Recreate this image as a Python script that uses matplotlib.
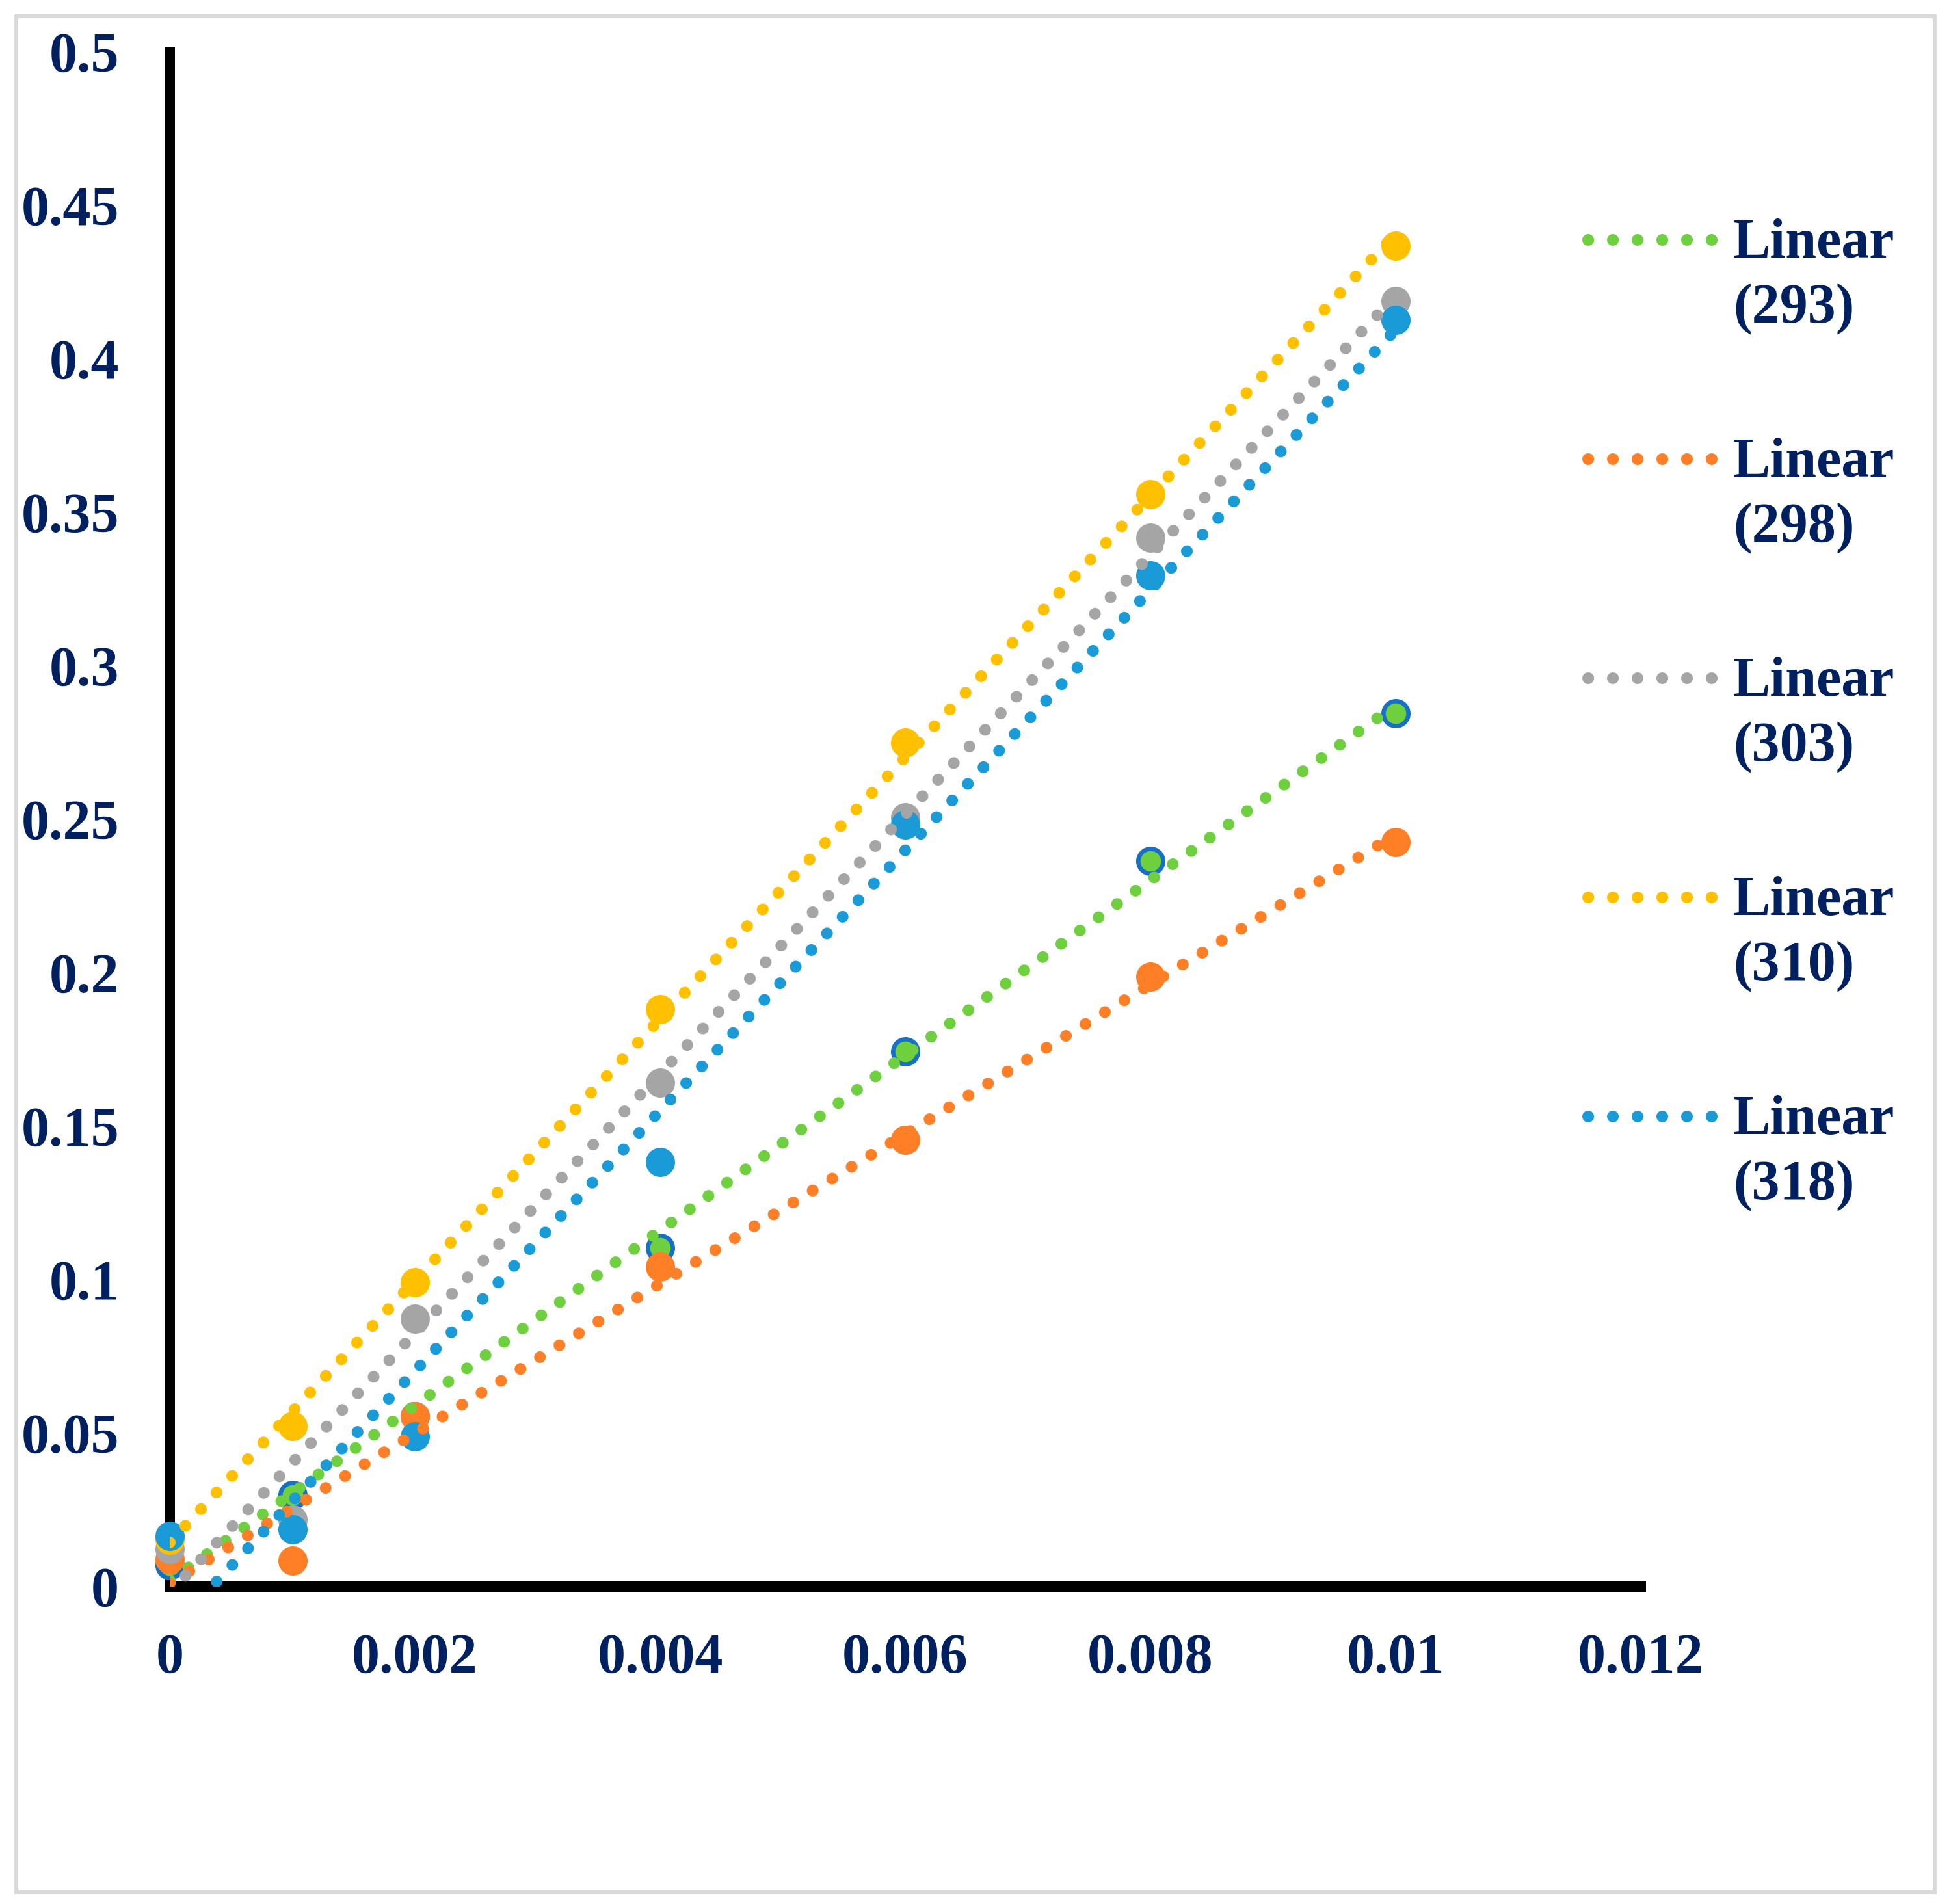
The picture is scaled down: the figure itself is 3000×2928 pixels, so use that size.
import numpy as np
import matplotlib
matplotlib.use("Agg")
from matplotlib import pyplot as plt
from matplotlib.lines import Line2D
from matplotlib.patches import Rectangle

plt.rcParams['font.family'] = ['Liberation Serif', 'DejaVu Serif']
plt.rcParams['font.weight'] = 'bold'

# concentration values (x) and readings per temperature
x_vals = [0, 0.001, 0.002, 0.004, 0.006, 0.008, 0.01]
y_293 = [0.0069, 0.0299, 0.0555, 0.1104, 0.1744, 0.2364, 0.2845]
y_298 = [0.0090, 0.0085, 0.0555, 0.1042, 0.1456, 0.1987, 0.2426]
y_303 = [0.0122, 0.0218, 0.0872, 0.1642, 0.2506, 0.3417, 0.4189]
y_310 = [0.0152, 0.0523, 0.0991, 0.1881, 0.2750, 0.3559, 0.4369]
y_318 = [0.0165, 0.0187, 0.0489, 0.1383, 0.2483, 0.3294, 0.4127]

series_names = ["293", "298", "303", "310", "318"]
series_vals = [y_293, y_298, y_303, y_310, y_318]
colors = ['#6ECF3F', '#FF7F27', '#A5A5A5', '#FFC000', '#1A9AD6']
ring_color = '#1670C6'
text_color = '#002060'

x_ticks = [0, 0.002, 0.004, 0.006, 0.008, 0.01, 0.012]
x_tick_labels = ['0', '0.002', '0.004', '0.006', '0.008', '0.01', '0.012']
y_ticks = [0, 0.05, 0.1, 0.15, 0.2, 0.25, 0.3, 0.35, 0.4, 0.45, 0.5]
y_tick_labels = ['0', '0.05', '0.1', '0.15', '0.2', '0.25', '0.3', '0.35', '0.4', '0.45', '0.5']

W, H = 3000, 2928
fig = plt.figure(figsize=(W / 100, H / 100), dpi=100)

def fx(px):
    return px / W

def fy(py):
    return 1 - py / H

# axes box: x 261..2523 px, y 80..2440 px
ax = fig.add_axes([fx(261), fy(2440), fx(2523) - fx(261), fy(80) - fy(2440)])
ax.set_xlim(0, 0.012)
ax.set_ylim(0, 0.5)

px_to_pt = 0.72
dot_lw = 18 * px_to_pt
dot_style = (0, (0.01, 1.94))

xarr = np.array(x_vals)
xfit = np.linspace(0, 0.01, 200)

# markers
for i, yv in enumerate(series_vals):
    if i == 0:
        ax.plot(x_vals, yv, 'o', ls='none', ms=38.3 * px_to_pt, mfc=colors[i],
                mec=ring_color, mew=6.7 * px_to_pt, clip_on=False, zorder=3)
    else:
        ax.plot(x_vals, yv, 'o', ls='none', ms=45 * px_to_pt, mfc=colors[i],
                mew=0, clip_on=False, zorder=3)

# linear trendlines
for i, yv in enumerate(series_vals):
    k, b = np.polyfit(xarr, np.array(yv), 1)
    ax.plot(xfit, k * xfit + b, color=colors[i], lw=dot_lw, linestyle=dot_style,
            dash_capstyle='round', zorder=4 + i * 0.1)

ax.spines['top'].set_visible(False)
ax.spines['right'].set_visible(False)
ax.spines['left'].set_linewidth(16 * px_to_pt)
ax.spines['bottom'].set_linewidth(16 * px_to_pt)
ax.spines['left'].set_color('black')
ax.spines['bottom'].set_color('black')
ax.spines['left'].set_zorder(2)
ax.spines['bottom'].set_zorder(2)

ax.set_xticks(x_ticks)
ax.set_xticklabels(x_tick_labels)
ax.set_yticks(y_ticks)
ax.set_yticklabels(y_tick_labels)
ax.tick_params(axis='both', length=0, labelsize=62, labelcolor=text_color)
ax.tick_params(axis='x', pad=72 * px_to_pt)
ax.tick_params(axis='y', pad=78 * px_to_pt)
ax.set_facecolor('none')

# legend, drawn by hand (trendlines only)
for i, name in enumerate(series_names):
    yy = 369 + 337 * i
    fig.add_artist(Line2D([fx(2442), fx(2640)], [fy(yy), fy(yy)], color=colors[i],
                          lw=dot_lw, linestyle=(0, (0.01, 2.1)), dash_capstyle='round'))
    fig.text(fx(2665), fy(yy + 27), 'Linear', fontsize=62, color=text_color,
             ha='left', va='baseline')
    fig.text(fx(2665), fy(yy + 126), '(' + name + ')', fontsize=62, color=text_color,
             ha='left', va='baseline')

# outer frame
fig.patches.append(Rectangle((fx(25), fy(2910)), fx(2975) - fx(25), fy(25) - fy(2910),
                             transform=fig.transFigure, fill=False, ec='#D9D9D9',
                             lw=6 * px_to_pt))

fig.savefig('out.png', dpi=100, facecolor='white')
